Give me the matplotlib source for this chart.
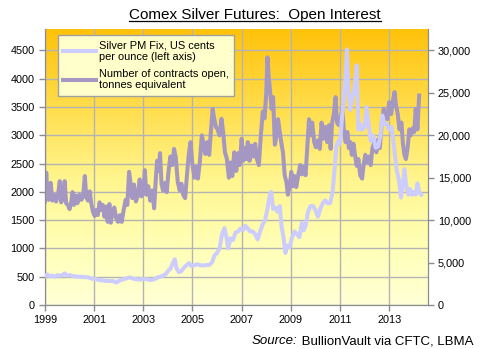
import matplotlib
matplotlib.use("Agg")
import matplotlib.pyplot as plt
import numpy as np
from matplotlib.colors import LinearSegmentedColormap
from matplotlib.ticker import FuncFormatter
from matplotlib.lines import Line2D

plt.rcParams['font.family'] = ['Liberation Sans', 'DejaVu Sans']

# Silver PM fix, US cents per ounce (left axis)
pm_years = [1999.00, 1999.10, 1999.20, 1999.30, 1999.40, 1999.50, 1999.60, 1999.72, 1999.80, 1999.90,
            2000.00, 2000.15, 2000.30, 2000.45, 2000.60, 2000.75, 2000.90, 2001.05, 2001.20, 2001.35,
            2001.50, 2001.65, 2001.80, 2001.90, 2002.00, 2002.15, 2002.30, 2002.45, 2002.55, 2002.70,
            2002.85, 2003.00, 2003.15, 2003.30, 2003.45, 2003.60, 2003.75, 2003.90, 2004.00, 2004.10,
            2004.20, 2004.28, 2004.35, 2004.45, 2004.55, 2004.65, 2004.75, 2004.85, 2004.95, 2005.05,
            2005.20, 2005.35, 2005.50, 2005.60, 2005.70, 2005.80, 2005.90, 2006.00, 2006.10, 2006.20,
            2006.30, 2006.38, 2006.45, 2006.55, 2006.65, 2006.75, 2006.85, 2006.95, 2007.05, 2007.15,
            2007.25, 2007.35, 2007.45, 2007.55, 2007.65, 2007.75, 2007.85, 2007.95, 2008.05, 2008.15,
            2008.20, 2008.28, 2008.38, 2008.45, 2008.55, 2008.62, 2008.70, 2008.78, 2008.85, 2008.95,
            2009.05, 2009.15, 2009.25, 2009.35, 2009.45, 2009.52, 2009.60, 2009.70, 2009.80, 2009.90,
            2010.00, 2010.10, 2010.20, 2010.30, 2010.40, 2010.50, 2010.60, 2010.70, 2010.78, 2010.85,
            2010.92, 2011.00, 2011.08, 2011.15, 2011.22, 2011.28, 2011.35, 2011.42, 2011.50, 2011.58,
            2011.68, 2011.75, 2011.82, 2011.90, 2012.00, 2012.08, 2012.15, 2012.25, 2012.35, 2012.45,
            2012.55, 2012.65, 2012.72, 2012.80, 2012.90, 2013.00, 2013.10, 2013.20, 2013.30, 2013.40,
            2013.48, 2013.55, 2013.62, 2013.70, 2013.78, 2013.85, 2013.92, 2014.00, 2014.08, 2014.15,
            2014.22, 2014.30]
pm_cents = [510, 540, 505, 520, 500, 525, 520, 530, 560, 520,
            530, 510, 500, 500, 495, 490, 465, 460, 440, 435,
            425, 425, 420, 395, 425, 450, 470, 490, 470, 455,
            450, 460, 455, 440, 455, 490, 510, 540, 600, 640,
            740, 810, 650, 580, 600, 660, 700, 740, 690, 700,
            720, 700, 700, 710, 710, 760, 880, 920, 1000, 1250,
            1360, 1200, 1000, 1180, 1150, 1280, 1300, 1350, 1320, 1400,
            1350, 1300, 1300, 1250, 1160, 1300, 1420, 1500, 1700, 1950,
            2000, 1700, 1720, 1650, 1750, 1400, 1200, 920, 1050, 1020,
            1200, 1300, 1250, 1200, 1450, 1320, 1400, 1650, 1750, 1750,
            1680, 1560, 1700, 1800, 1850, 1800, 1800, 2000, 2400, 2800,
            2900, 2850, 3300, 3600, 4000, 4520, 3800, 3450, 3650, 3800,
            4240, 3100, 3200, 3100, 3150, 3500, 3250, 2900, 3000, 2780,
            2800, 3000, 3350, 3200, 3200, 3100, 3150, 2800, 2400, 2200,
            1900, 2100, 2400, 2100, 1950, 2050, 1950, 2000, 1950, 2150,
            2000, 1950]

# Open interest, tonnes equivalent (right axis)
oi_years = [1999.00, 1999.05, 1999.10, 1999.15, 1999.23, 1999.30, 1999.38, 1999.45, 1999.52, 1999.60,
            1999.66, 1999.72, 1999.80, 1999.86, 1999.93, 2000.00, 2000.06, 2000.12, 2000.18, 2000.25,
            2000.32, 2000.40, 2000.48, 2000.55, 2000.62, 2000.68, 2000.75, 2000.82, 2000.88, 2000.95,
            2001.02, 2001.08, 2001.15, 2001.22, 2001.28, 2001.35, 2001.42, 2001.48, 2001.55, 2001.62,
            2001.68, 2001.75, 2001.82, 2001.90, 2001.97, 2002.05, 2002.12, 2002.20, 2002.28, 2002.35,
            2002.42, 2002.48, 2002.55, 2002.62, 2002.70, 2002.78, 2002.85, 2002.92, 2003.00, 2003.06,
            2003.12, 2003.20, 2003.28, 2003.36, 2003.44, 2003.50, 2003.56, 2003.62, 2003.68, 2003.74,
            2003.80, 2003.88, 2003.95, 2004.02, 2004.10, 2004.18, 2004.25, 2004.32, 2004.40, 2004.48,
            2004.55, 2004.62, 2004.70, 2004.78, 2004.85, 2004.92, 2005.00, 2005.08, 2005.15, 2005.22,
            2005.30, 2005.38, 2005.45, 2005.52, 2005.60, 2005.68, 2005.75, 2005.82, 2005.88, 2005.95,
            2006.02, 2006.10, 2006.18, 2006.25, 2006.32, 2006.40, 2006.48, 2006.55, 2006.62, 2006.70,
            2006.78, 2006.85, 2006.92, 2007.00, 2007.06, 2007.12, 2007.18, 2007.25, 2007.32, 2007.40,
            2007.48, 2007.55, 2007.62, 2007.70, 2007.78, 2007.86, 2007.93, 2008.00, 2008.05, 2008.10,
            2008.16, 2008.22, 2008.28, 2008.35, 2008.42, 2008.48, 2008.55, 2008.62, 2008.68, 2008.75,
            2008.82, 2008.88, 2008.95, 2009.02, 2009.08, 2009.15, 2009.22, 2009.30, 2009.38, 2009.45,
            2009.52, 2009.60, 2009.67, 2009.74, 2009.80, 2009.87, 2009.95, 2010.02, 2010.10, 2010.18,
            2010.25, 2010.32, 2010.40, 2010.48, 2010.55, 2010.62, 2010.68, 2010.75, 2010.82, 2010.88,
            2010.95, 2011.02, 2011.10, 2011.16, 2011.23, 2011.30, 2011.36, 2011.42, 2011.48, 2011.55,
            2011.62, 2011.68, 2011.75, 2011.82, 2011.90, 2011.96, 2012.03, 2012.10, 2012.18, 2012.25,
            2012.32, 2012.40, 2012.48, 2012.55, 2012.62, 2012.70, 2012.78, 2012.85, 2012.92, 2013.00,
            2013.08, 2013.15, 2013.22, 2013.28, 2013.35, 2013.42, 2013.50, 2013.56, 2013.62, 2013.68,
            2013.75, 2013.82, 2013.88, 2013.95, 2014.02, 2014.08, 2014.15, 2014.22]
oi_tonnes = [12200, 15600, 13000, 12400, 14400, 12300, 13000, 12200, 12800, 14600,
             12100, 12600, 14600, 12000, 11800, 11300, 12000, 13300, 11800, 12900,
             12000, 13000, 12400, 12800, 15200, 12700, 12300, 13400, 12000, 11000,
             10500, 11200, 10600, 12100, 11200, 11800, 10400, 11600, 9800, 11900,
             9700, 11000, 11500, 10200, 9800, 10600, 9800, 11200, 12400, 11800,
             15700, 14400, 12600, 14200, 12200, 13000, 14800, 12800, 13300, 15900,
             13000, 14000, 12300, 13500, 11400, 14500, 17000, 15800, 17900, 14300,
             13500, 14400, 13300, 15600, 17500, 16500, 18400, 17400, 14500, 13500,
             14300, 13000, 12600, 15500, 17800, 19200, 16500, 15000, 16300, 14900,
             16900, 20000, 19000, 17800, 19200, 17700, 20500, 23100, 22000, 21000,
             20700, 20000, 21950, 20300, 18000, 17200, 15000, 16800, 15200, 18000,
             15800, 17900, 16500, 19600, 17000, 18500, 17200, 19200, 17000, 18800,
             17500, 19000, 17200, 16500, 20000, 22800, 22000, 25000, 29200, 27000,
             25000, 23100, 24500, 18900, 20000, 21900, 20400, 19000, 18000, 15300,
             14500, 13000, 14000, 15700, 14000, 15200, 13900, 15300, 16500, 15400,
             16300, 15300, 18500, 21900, 20000, 21500, 19200, 18600, 19400, 18400,
             21500, 19600, 21000, 19200, 21200, 18400, 21500, 22500, 24500, 21500,
             21200, 22000, 23100, 20400, 19200, 20400, 18500, 19200, 17700, 19000,
             17500, 16400, 17200, 15300, 14900, 16500, 17700, 16800, 17500, 16500,
             18500, 19200, 18000, 19500, 18500, 21500, 23100, 22000, 21900, 23900,
             22500, 24000, 25100, 23500, 22500, 20700, 21500, 19000, 17700, 17200,
             18500, 20700, 20000, 20800, 20400, 23100, 20700, 24700]

year_ticks = [1999, 2001, 2003, 2005, 2007, 2009, 2011, 2013]
left_ticks = list(range(0, 5000, 500))
right_ticks = list(range(0, 35000, 5000))

silver_col = "#CCCCFF"
oi_col = "#A498C2"
grid_col = "#B4B4B4"
spine_col = "#8C8C8C"

fig = plt.figure(figsize=(4.8, 3.49), dpi=100)
ax = fig.add_axes([45 / 480, 1 - 305 / 349, (428 - 45) / 480, (305 - 29) / 349])

# background gradient
cmap = LinearSegmentedColormap.from_list(
    "bg", [(0.0, "#FFFFD6"), (0.2, "#FFFFB8"), (0.45, "#FFF690"), (0.7, "#FFDF50"), (1.0, "#FFC20A")])
grad = np.linspace(0, 1, 256).reshape(-1, 1)
ax.imshow(grad, cmap=cmap, origin="lower", aspect="auto", extent=[0, 1, 0, 1],
          transform=ax.transAxes, zorder=-2)

ymax = 4880
ax.set_xlim(1999, 2014.58)
ax.set_ylim(0, ymax)
ax.set_xticks(year_ticks)
ax.set_yticks(left_ticks)
ax.set_axisbelow(True)
ax.grid(True, color=grid_col, linewidth=1)

ax2 = ax.twinx()
ax2.set_ylim(0, ymax * 20 / 3)
ax2.set_yticks(right_ticks)
ax2.yaxis.set_major_formatter(FuncFormatter(lambda v, p: f"{int(v):,}"))
ax2.plot(oi_years, oi_tonnes, color=oi_col, linewidth=2.9, solid_joinstyle="round")

ax3 = ax.twinx()
ax3.set_ylim(0, ymax)
ax3.axis("off")
ax3.plot(pm_years, pm_cents, color=silver_col, linewidth=2.9, solid_joinstyle="round")

for a in (ax, ax2):
    a.spines["top"].set_visible(False)
    for s in ("left", "right", "bottom"):
        a.spines[s].set_color(spine_col)
    a.tick_params(colors=spine_col, labelcolor="black", labelsize=7.8, length=4, width=1)
ax.tick_params(axis="x", pad=3)
ax2.tick_params(axis="y", pad=3)

handles = [Line2D([], [], color=silver_col, linewidth=2.9),
           Line2D([], [], color=oi_col, linewidth=2.9)]
labels = ["Silver PM Fix, US cents\nper ounce (left axis)",
          "Number of contracts open,\ntonnes equivalent"]
leg = ax3.legend(handles, labels, loc="upper left",
                 bbox_to_anchor=(58 / 480, 1 - 35 / 349), bbox_transform=fig.transFigure,
                 fontsize=7.9, frameon=True, fancybox=False, facecolor="#FFFFCC",
                 edgecolor="#A0A0A0", framealpha=1, handlelength=3.0, handletextpad=0.2,
                 borderpad=0.5, labelspacing=0.6, borderaxespad=0)
leg.get_frame().set_linewidth(1)

title = fig.text(255 / 480, 1 - 15 / 349, "Comex Silver Futures:  Open Interest",
                 ha="center", va="center", fontsize=11)

src = fig.text(473 / 480, 1 - 344 / 349, " BullionVault via CFTC, LBMA",
               ha="right", va="baseline", fontsize=9.5)

fig.canvas.draw()
r = fig.canvas.get_renderer()
inv = fig.transFigure.inverted()
tb = title.get_window_extent(r)
(x0, y0), (x1, y1) = inv.transform([(tb.x0, tb.y0), (tb.x1, tb.y1)])
fig.add_artist(Line2D([x0, x1], [y0 + 0.004, y0 + 0.004], color="black", linewidth=0.9,
                      transform=fig.transFigure))
sb = src.get_window_extent(r)
sx0 = inv.transform((sb.x0, sb.y0))[0]
fig.text(sx0, 1 - 344 / 349, "Source:", ha="right", va="baseline", fontsize=9.5, style="italic")

fig.savefig("out.png", dpi=100)
